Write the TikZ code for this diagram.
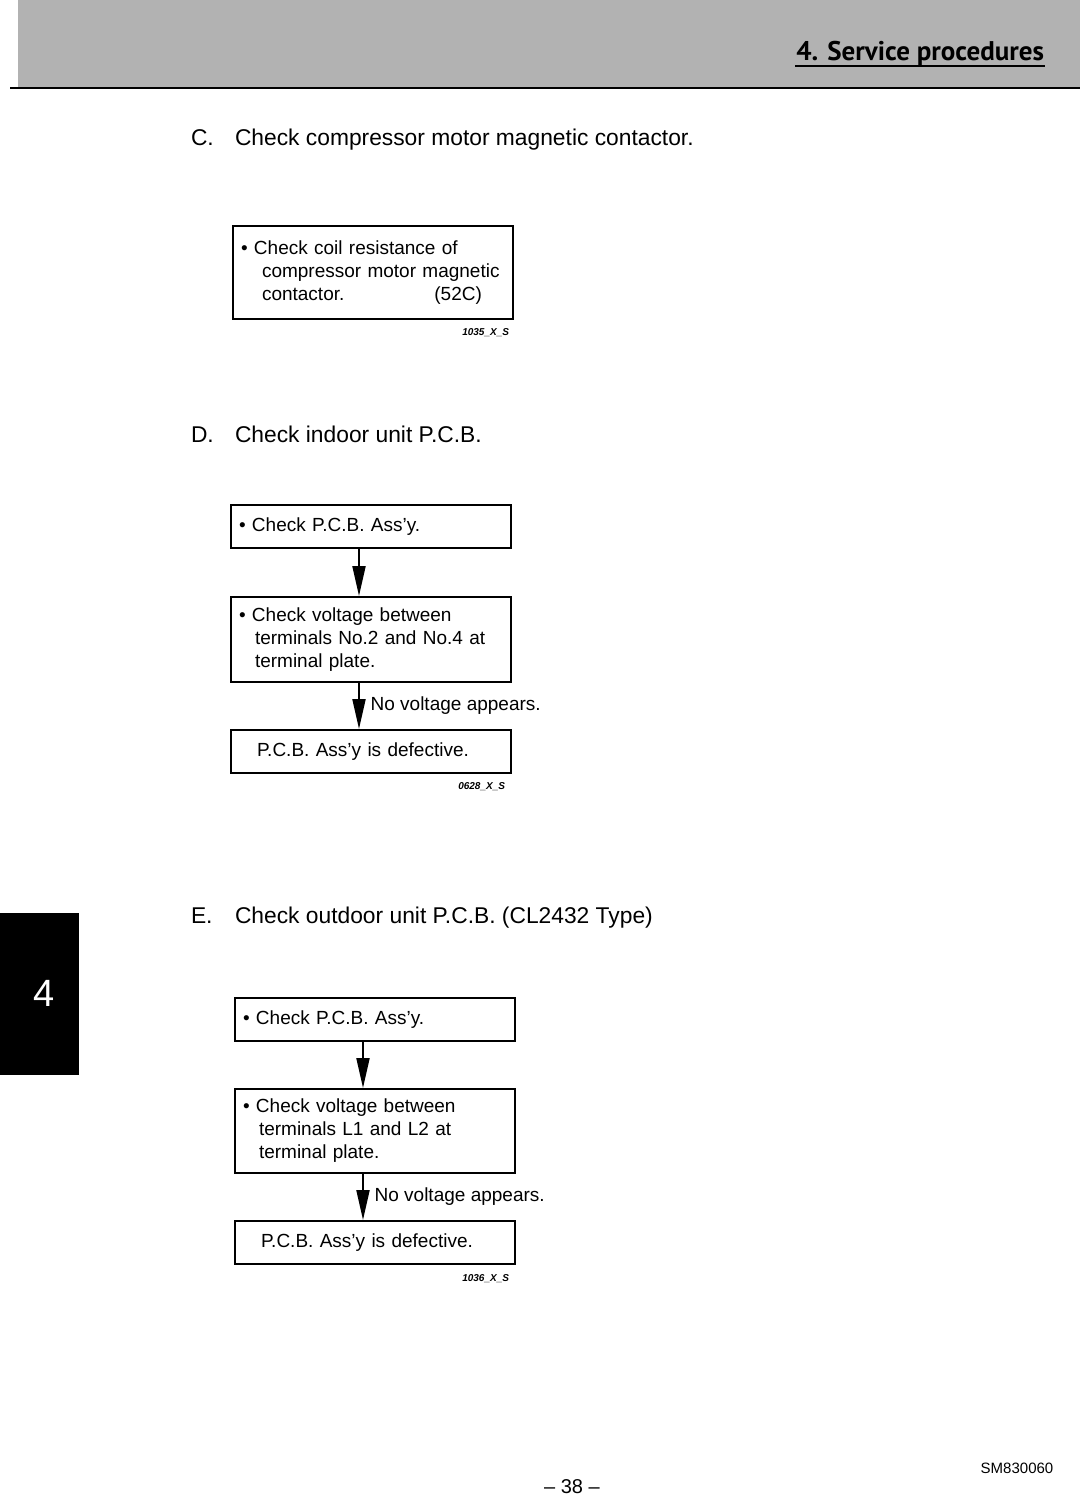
\documentclass[tikz,border=0pt]{standalone}
\usepackage{fontspec}
\setmainfont{Liberation Sans}
\newfontfamily\headfont{PT Sans}
\usetikzlibrary{positioning, arrows.meta}

\newcommand\boxfont{\fontsize{9.5}{11.5}\selectfont}
\newcommand\bul{\textbullet\ }

\begin{document}
\begin{tikzpicture}[x=0.5pt, y=-0.5pt, line width=1pt,
    >={Triangle[length=15pt, width=6.5pt]},
    node distance=23.5pt,
    box/.style={draw, rectangle, minimum width=140pt, minimum height=21.5pt,
      text width=132pt, inner xsep=4pt, inner ysep=0pt, align=left, font=\boxfont},
    title/.style={anchor=base west, inner sep=0pt, font=\fontsize{11.4}{14}\selectfont},
    code/.style={anchor=north east, inner sep=0pt, font=\fontsize{5}{6}\selectfont\bfseries\itshape},
    flow/.style={->, shorten >=0pt}]
    \useasboundingbox (0,0) rectangle (1080,1512);

    % header band
    \fill[black!30] (18,0) rectangle (1080,88);
    \draw[line width=1.2pt] (10,88) -- (1080,88);
    \node[anchor=base east, inner sep=0pt, font=\headfont\bfseries\fontsize{13.5}{15}\selectfont] (head) at (1045,60) {4. Service procedures};
    \draw ([yshift=-3pt]head.base west) -- ([yshift=-3pt]head.base east);

    % chapter tab
    \fill (0,913) rectangle (79,1075);
    \node[white, font=\fontsize{19}{21}\selectfont] (tab) at (44,993) {4};

    % C
    \node[title] (ctag) at (190,145) {C.};
    \node[title] (ctitle) at (234,145) {Check compressor motor magnetic contactor.};
    \node[box, anchor=north west, minimum height=46.5pt] (c1) at (232,225)
        {\bul Check coil resistance of\\\hspace*{10.5pt}compressor motor magnetic\\\hspace*{10.5pt}contactor.\hspace{45pt}(52C)};
    \node[code] (ccode) at ([xshift=-2pt, yshift=-4pt]c1.south east) {1035\_X\_S};

    % D
    \node[title] (dtag) at (190,442) {D.};
    \node[title] (dtitle) at (234,442) {Check indoor unit P.C.B.};
    \node[box, anchor=north west] (d1) at (230,504) {\bul Check P.C.B. Ass'y.};
    \node[box, minimum height=42.5pt] (d2) [below=of d1] {\bul Check voltage between\\\hspace*{8pt}terminals No.2 and No.4 at\\\hspace*{8pt}terminal plate.};
    \node[box] (d3) [below=23pt of d2] {\hspace*{9pt}P.C.B. Ass'y is defective.};
    \node[code] (dcode) at ([xshift=-3pt, yshift=-4pt]d3.south east) {0628\_X\_S};

    \path[flow]
    ([xshift=-6pt]d1.south) edge ([xshift=-6pt]d2.north)
    ([xshift=-6pt]d2.south) edge node[right, font=\boxfont, xshift=2pt] {No voltage appears.} ([xshift=-6pt]d3.north);

    % E
    \node[title] (etag) at (190,923) {E.};
    \node[title] (etitle) at (234,923) {Check outdoor unit P.C.B. (CL2432 Type)};
    \node[box, anchor=north west] (e1) at (234,997) {\bul Check P.C.B. Ass'y.};
    \node[box, minimum height=42pt] (e2) [below=23pt of e1] {\bul Check voltage between\\\hspace*{8pt}terminals L1 and L2 at\\\hspace*{8pt}terminal plate.};
    \node[box] (e3) [below=23pt of e2] {\hspace*{9pt}P.C.B. Ass'y is defective.};
    \node[code] (ecode) at ([xshift=-3pt, yshift=-4pt]e3.south east) {1036\_X\_S};

    \path[flow]
    ([xshift=-6pt]e1.south) edge ([xshift=-6pt]e2.north)
    ([xshift=-6pt]e2.south) edge node[right, font=\boxfont, xshift=2pt] {No voltage appears.} ([xshift=-6pt]e3.north);

    % footer
    \node[font=\fontsize{10}{12}\selectfont] (page) at (572,1487) {-- 38 --};
    \node[font=\fontsize{7.5}{9}\selectfont] (docno) at (1017,1468) {SM830060};
\end{tikzpicture}
\end{document}
